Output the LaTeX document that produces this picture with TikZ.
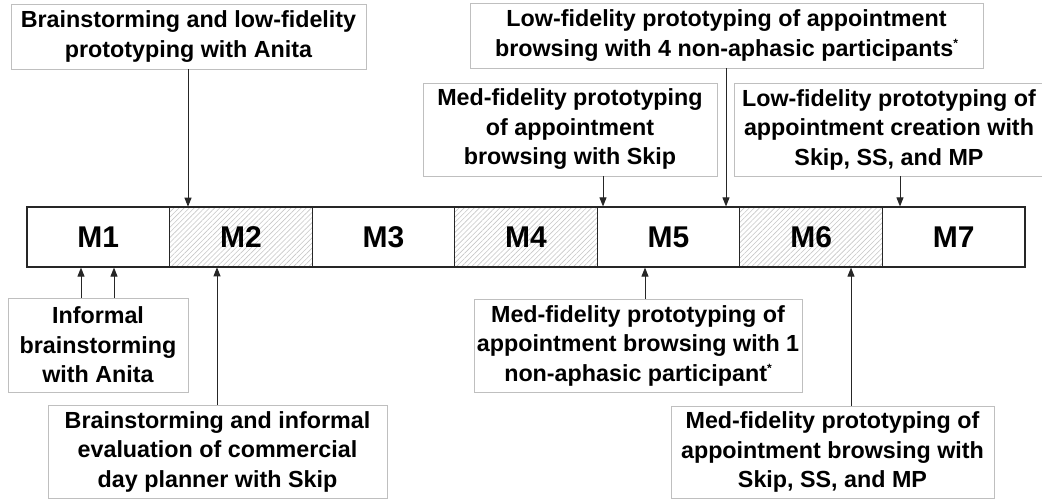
\documentclass[tikz,border=0pt]{standalone}
\usepackage{fontspec}
\setmainfont{Liberation Sans}
\usetikzlibrary{arrows.meta,patterns.meta}
\begin{document}
\begin{tikzpicture}[x=1pt,y=-1pt,
  note/.style={draw=black!25, line width=0.9pt, inner sep=0pt, align=center,
    font=\bfseries\fontsize{23.3}{29.5}\selectfont, text=black},
  seg/.style={draw=black!85, line width=1.2pt, minimum width=142.57pt, minimum height=60pt,
    inner sep=0pt, font=\bfseries\fontsize{30}{30}\selectfont},
  hatch/.style={seg, pattern={Lines[angle=45,distance=3.6pt,line width=0.6pt]}, pattern color=black!22},
  arr/.style={draw=black!85, line width=0.9pt, -{Triangle[length=9pt,width=7pt]}},
  star/.style={}
]
\clip (0,0) rectangle (1042,499);
\fill[white] (0,0) rectangle (1042,499);
% timeline
\node[seg]   (M1) at (98.29,237)  {M1};
\node[hatch] (M2) at (240.86,237) {M2};
\node[seg]   (M3) at (383.43,237) {M3};
\node[hatch] (M4) at (526.00,237) {M4};
\node[seg]   (M5) at (668.57,237) {M5};
\node[hatch] (M6) at (811.14,237) {M6};
\node[seg]   (M7) at (953.71,237) {M7};
% notes above
\node[note, minimum width=355pt, minimum height=65pt] (b1) at (188.5,36.5)
  {Brainstorming and low-fidelity\\prototyping with Anita};
\node[note, minimum width=513pt, minimum height=65pt] (b3) at (726.5,35.5)
  {Low-fidelity prototyping of appointment\\browsing with 4 non-aphasic participants\raisebox{9pt}{\fontsize{12}{12}\selectfont *}};
\node[note, minimum width=294pt, minimum height=93pt] (b2) at (570,129.5)
  {Med-fidelity prototyping\\of appointment\\browsing with Skip};
\node[note, minimum width=310pt, minimum height=93pt] (b4) at (889,129.5)
  {Low-fidelity prototyping of\\appointment creation with\\Skip, SS, and MP};
% notes below
\node[note, minimum width=180pt, minimum height=94pt] (b0) at (98,345)
  {Informal\\brainstorming\\with Anita};
\node[note, minimum width=339pt, minimum height=93pt] (b5) at (217.5,451.5)
  {Brainstorming and informal\\evaluation of commercial\\day planner with Skip};
\node[note, minimum width=328pt, minimum height=93pt] (b6) at (638,345.5)
  {Med-fidelity prototyping of\\appointment browsing with 1\\non-aphasic participant\raisebox{9pt}{\fontsize{12}{12}\selectfont *}};
\node[note, minimum width=323pt, minimum height=92pt] (b7) at (832.5,452)
  {Med-fidelity prototyping of\\appointment browsing with\\Skip, SS, and MP};
% connectors
\draw[arr] ([xshift=-0.5pt]b1.south) -- ([xshift=-0.5pt]b1.south |- M2.north);
\draw[arr] ([xshift=33pt]b2.south) -- ([xshift=33pt]b2.south |- M5.north);
\draw[arr] ([xshift=-0.5pt]b3.south) -- ([xshift=-0.5pt]b3.south |- M5.north);
\draw[arr] ([xshift=11pt]b4.south) -- ([xshift=11pt]b4.south |- M7.north);
\draw[arr] ([xshift=-17pt]b0.north) -- ([xshift=-17pt]b0.north |- M1.south);
\draw[arr] ([xshift=16pt]b0.north) -- ([xshift=16pt]b0.north |- M1.south);
\draw[arr] ([xshift=-0.5pt]b5.north) -- ([xshift=-0.5pt]b5.north |- M2.south);
\draw[arr] ([xshift=7pt]b6.north) -- ([xshift=7pt]b6.north |- M5.south);
\draw[arr] ([xshift=18.5pt]b7.north) -- ([xshift=18.5pt]b7.north |- M6.south);
\end{tikzpicture}
\end{document}
